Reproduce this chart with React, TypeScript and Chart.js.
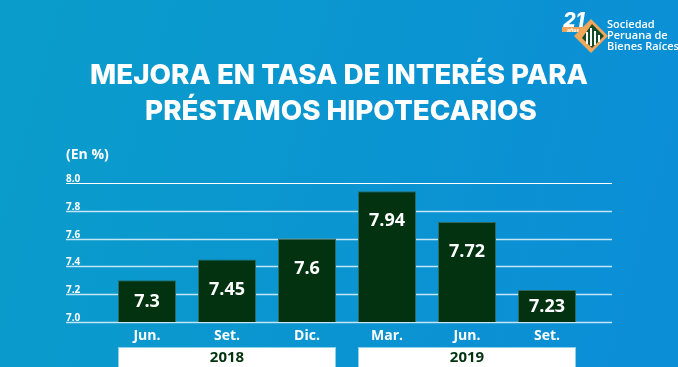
import React, { useEffect, useRef } from "react";
import { Chart, registerables } from "chart.js";

Chart.register(...registerables);

const months = ["Jun.", "Set.", "Dic.", "Mar.", "Jun.", "Set."];
const rates = [7.3, 7.45, 7.6, 7.94, 7.72, 7.23];
const valueLabels = ["7.3", "7.45", "7.6", "7.94", "7.72", "7.23"];
const yTicks = [7.0, 7.2, 7.4, 7.6, 7.8, 8.0];
const yTickLabels = ["7.0", "7.2", "7.4", "7.6", "7.8", "8.0"];
const years = ["2018", "2019"];
const yearFirst = [0, 3];
const yearLast = [2, 5];
const titleLines = ["MEJORA EN TASA DE INTERÉS PARA", "PRÉSTAMOS HIPOTECARIOS"];
const unitLabel = "(En %)";
const logoLines = ["Sociedad", "Peruana de", "Bienes Raíces"];
const logoYears = "21";
const logoTag = "años";

const W = 678;
const H = 367;

const decorPlugin = {
  id: "decor",
  beforeDraw(chart: any) {
    const ctx = chart.ctx as CanvasRenderingContext2D;
    ctx.save();
    const g = ctx.createLinearGradient(0, 0, W, H * 0.5);
    g.addColorStop(0, "#0a9dca");
    g.addColorStop(1, "#0b8ed6");
    ctx.fillStyle = g;
    ctx.fillRect(0, 0, W, H);

    // title
    ctx.fillStyle = "#ffffff";
    ctx.textAlign = "center";
    ctx.textBaseline = "alphabetic";
    let size = 27;
    ctx.font = `800 ${size}px Inter`;
    const w1 = ctx.measureText(titleLines[0]).width;
    size = (size * 498) / w1;
    ctx.font = `800 ${size}px Inter`;
    ctx.fillText(titleLines[0], 339, 84);
    ctx.fillText(titleLines[1], 341, 120);

    // unit label
    ctx.textAlign = "left";
    ctx.font = "bold 14px 'Open Sans'";
    ctx.fillText(unitLabel, 66, 159);

    // logo
    ctx.font = "italic 800 20px Inter";
    ctx.fillText(logoYears, 563, 27);
    ctx.fillStyle = "#f0a45a";
    ctx.fillRect(562, 27, 22, 5);
    ctx.fillStyle = "#ffffff";
    ctx.font = "bold 5px 'Open Sans'";
    ctx.fillText(logoTag, 567, 31.5);
    // diamond
    ctx.fillStyle = "#f2a65a";
    ctx.beginPath();
    ctx.moveTo(591, 19);
    ctx.lineTo(608, 36);
    ctx.lineTo(591, 53);
    ctx.lineTo(574, 36);
    ctx.closePath();
    ctx.fill();
    ctx.fillStyle = "#124a2a";
    ctx.beginPath();
    ctx.moveTo(592, 24);
    ctx.lineTo(604, 36);
    ctx.lineTo(592, 48);
    ctx.lineTo(582, 38);
    ctx.closePath();
    ctx.fill();
    ctx.fillStyle = "#ffffff";
    ctx.fillRect(586, 32, 2, 12);
    ctx.fillRect(590, 28, 2, 18);
    ctx.fillRect(594, 31, 2, 14);
    ctx.fillRect(598, 35, 2, 7);
    ctx.font = "600 11px 'Open Sans'";
    ctx.fillText(logoLines[0], 607, 28);
    ctx.fillText(logoLines[1], 607, 39);
    ctx.fillText(logoLines[2], 607, 50);
    ctx.restore();
  },
  beforeDatasetsDraw(chart: any) {
    const ctx = chart.ctx as CanvasRenderingContext2D;
    const y = chart.scales.y;
    const area = chart.chartArea;
    const left = area.left - 41;
    const right = area.right + 25;
    ctx.save();
    yTicks.forEach((v, i) => {
      const py = Math.round(y.getPixelForValue(v));
      ctx.strokeStyle = v === 8 ? "#ffffff" : "rgba(230,245,252,0.85)";
      ctx.lineWidth = v === 8 ? 1 : 1.5;
      ctx.beginPath();
      ctx.moveTo(left, py + 0.5);
      ctx.lineTo(right, py + 0.5);
      ctx.stroke();
      ctx.fillStyle = "#ffffff";
      ctx.font = "bold 10px 'Open Sans'";
      ctx.textAlign = "left";
      ctx.textBaseline = "alphabetic";
      ctx.fillText(yTickLabels[i], left, py - 1);
    });
    ctx.restore();
  },
  afterDatasetsDraw(chart: any) {
    const ctx = chart.ctx as CanvasRenderingContext2D;
    const meta = chart.getDatasetMeta(0);
    const area = chart.chartArea;
    ctx.save();
    ctx.textAlign = "center";
    ctx.textBaseline = "middle";
    meta.data.forEach((bar: any, i: number) => {
      const h = area.bottom - bar.y;
      const cy = bar.y + Math.min(30, h / 2 + 1);
      ctx.fillStyle = "#ffffff";
      ctx.font = "bold 18px 'Open Sans'";
      ctx.fillText(valueLabels[i], bar.x, cy);
      ctx.font = "bold 14px 'Open Sans'";
      ctx.fillText(months[i], bar.x, area.bottom + 14);
    });
    years.forEach((yr, k) => {
      const a = meta.data[yearFirst[k]];
      const b = meta.data[yearLast[k]];
      const x0 = a.x - a.width / 2;
      const x1 = b.x + b.width / 2;
      const top = area.bottom + 25;
      ctx.fillStyle = "#ffffff";
      ctx.fillRect(x0, top, x1 - x0, 22);
      ctx.strokeStyle = "#8fd0ea";
      ctx.lineWidth = 1;
      ctx.strokeRect(x0 + 0.5, top + 0.5, x1 - x0 - 1, 21);
      ctx.fillStyle = "#06330f";
      ctx.font = "bold 15px 'Open Sans'";
      ctx.fillText(yr, (x0 + x1) / 2, top + 11);
    });
    ctx.restore();
  },
};

export default function App() {
  const ref = useRef<HTMLCanvasElement | null>(null);
  useEffect(() => {
    document.body.style.margin = "0";
    const canvas = ref.current!;
    const chart = new Chart(canvas, {
      type: "bar",
      data: {
        labels: months,
        datasets: [
          {
            data: rates,
            backgroundColor: "#02320f",
            borderColor: "#2a6a62",
            borderWidth: 1,
            categoryPercentage: 1,
            barPercentage: 0.725,
          },
        ],
      },
      options: {
        responsive: false,
        animation: false,
        devicePixelRatio: 1,
        layout: { padding: { left: 107, right: 91, top: 183, bottom: 45 } },
        plugins: { legend: { display: false }, tooltip: { enabled: false } },
        scales: {
          x: { display: false },
          y: { display: false, min: 7.0, max: 8.0 },
        },
      },
      plugins: [decorPlugin],
    });
    return () => chart.destroy();
  }, []);
  return (
    <div style={{ position: "fixed", left: 0, top: 0, width: W, height: H }}>
      <canvas ref={ref} width={W} height={H} style={{ display: "block" }} />
    </div>
  );
}
